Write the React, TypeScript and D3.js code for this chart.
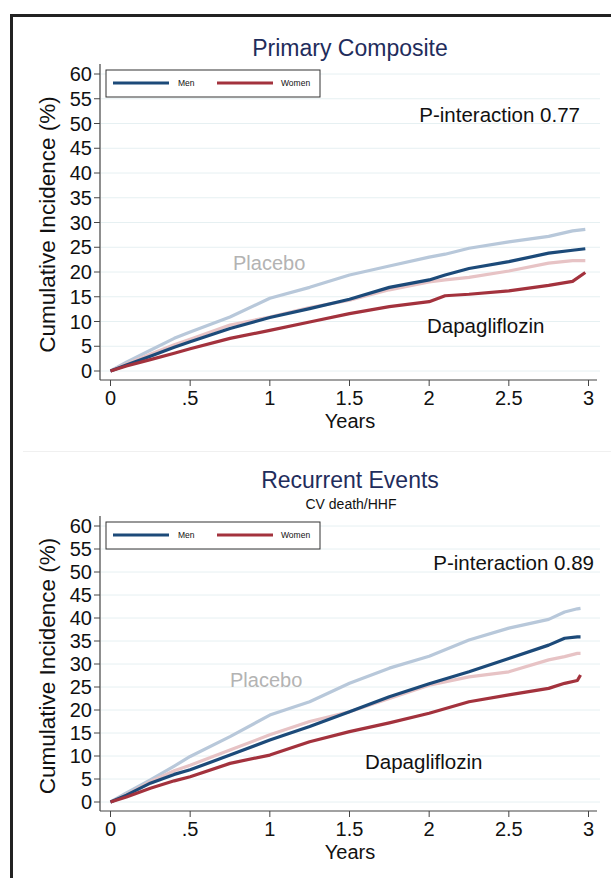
import React from 'react';
import * as d3 from 'd3';

// follow-up times (years)
const topYears = [0, 0.1, 0.25, 0.4, 0.5, 0.75, 1, 1.25, 1.5, 1.75, 2, 2.1, 2.25, 2.5, 2.75, 2.9, 2.98];
const topMenPlacebo = [0, 1.8, 4.2, 6.6, 7.9, 10.9, 14.7, 16.9, 19.4, 21.2, 23.0, 23.6, 24.8, 26.1, 27.2, 28.3, 28.6];
const topMenDapa = [0, 1.2, 3.0, 4.8, 5.9, 8.6, 10.8, 12.6, 14.5, 16.9, 18.4, 19.4, 20.7, 22.1, 23.8, 24.4, 24.7];
const topWomenPlacebo = [0, 1.4, 3.4, 5.3, 6.4, 9.3, 10.9, 12.8, 14.3, 16.4, 18.0, 18.4, 18.9, 20.2, 21.8, 22.3, 22.3];
const topWomenDapa = [0, 1.0, 2.3, 3.6, 4.5, 6.6, 8.2, 9.9, 11.6, 13.0, 14.0, 15.2, 15.5, 16.2, 17.3, 18.1, 19.9];

const bottomYears = [0, 0.1, 0.25, 0.4, 0.5, 0.75, 1, 1.25, 1.5, 1.75, 2, 2.25, 2.5, 2.75, 2.85, 2.93, 2.95];
const bottomMenPlacebo = [0, 2.0, 4.8, 7.8, 9.9, 14.2, 18.9, 21.8, 25.8, 29.1, 31.7, 35.2, 37.8, 39.7, 41.3, 42.0, 42.1];
const bottomMenDapa = [0, 1.5, 4.1, 6.0, 7.0, 10.2, 13.5, 16.4, 19.6, 22.9, 25.7, 28.3, 31.2, 34.1, 35.6, 35.9, 35.9];
const bottomWomenPlacebo = [0, 1.6, 4.4, 6.8, 8.0, 11.3, 14.6, 17.5, 19.6, 22.5, 25.4, 27.2, 28.3, 30.9, 31.6, 32.3, 32.3];
const bottomWomenDapa = [0, 1.1, 3.0, 4.6, 5.5, 8.4, 10.2, 13.1, 15.3, 17.2, 19.3, 21.8, 23.3, 24.7, 25.8, 26.4, 27.6];

const yTicks = [0, 5, 10, 15, 20, 25, 30, 35, 40, 45, 50, 55, 60];
const xTicks = [0, 0.5, 1, 1.5, 2, 2.5, 3];
const xTickLabels = ['0', '.5', '1', '1.5', '2', '2.5', '3'];

const MEN_DARK = '#1c4a79';
const MEN_LIGHT = '#b8c8da';
const WOMEN_DARK = '#a3323d';
const WOMEN_LIGHT = '#e7c3c5';
const TITLE = '#1f2d5c';
const FONT = '"Liberation Sans", Arial, Helvetica, sans-serif';

type PanelProps = {
  top: number; // y of the 60 tick
  bottom: number; // y of the 0 tick
  title: string;
  subtitle?: string;
  titleY: number;
  pText: string;
  pX: number;
  pY: number;
  placeboX: number;
  placeboY: number;
  dapaX: number;
  dapaY: number;
  years: number[];
  series: { values: number[]; color: string }[];
  legendY: number;
};

const Panel = (p: PanelProps) => {
  const x = d3.scaleLinear().domain([0, 3]).range([110.5, 588.5]);
  const y = d3.scaleLinear().domain([0, 60]).range([p.bottom, p.top]);
  const axisY = p.bottom + 9;
  const line = d3
    .line<number>()
    .x((_, i) => x(p.years[i]))
    .y((d) => y(d));

  return (
    <g fontFamily={FONT}>
      <text x={350} y={p.titleY} textAnchor="middle" fontSize={23} fill={TITLE}>
        {p.title}
      </text>
      {p.subtitle && (
        <text x={351} y={p.titleY + 21} textAnchor="middle" fontSize={14} fill="#111">
          {p.subtitle}
        </text>
      )}
      {/* gridlines */}
      {yTicks.map((t) => (
        <line key={'g' + t} x1={101} x2={600} y1={y(t)} y2={y(t)} stroke="#e6f0f2" strokeWidth={1} />
      ))}
      {/* y axis */}
      <line x1={100} x2={100} y1={p.top - 10} y2={axisY} stroke="#444" strokeWidth={1.2} />
      {yTicks.map((t) => (
        <g key={'y' + t}>
          <line x1={94} x2={100} y1={y(t)} y2={y(t)} stroke="#444" strokeWidth={1} />
          <text x={92} y={y(t) + 7} textAnchor="end" fontSize={20} fill="#111">
            {t}
          </text>
        </g>
      ))}
      <text
        transform={`translate(55,${(p.top + p.bottom) / 2 + 2}) rotate(-90)`}
        textAnchor="middle"
        fontSize={22.5}
        fill="#111"
      >
        Cumulative Incidence (%)
      </text>
      {/* x axis */}
      <line x1={100} x2={597} y1={axisY} y2={axisY} stroke="#444" strokeWidth={1.2} />
      {xTicks.map((t, i) => (
        <g key={'x' + t}>
          <line x1={x(t)} x2={x(t)} y1={axisY} y2={axisY + 6} stroke="#444" strokeWidth={1} />
          <text x={x(t)} y={axisY + 25} textAnchor="middle" fontSize={20} fill="#111">
            {xTickLabels[i]}
          </text>
        </g>
      ))}
      <text x={350} y={axisY + 48} textAnchor="middle" fontSize={20} fill="#111">
        Years
      </text>
      {/* curves */}
      {p.series.map((s, i) => (
        <path key={'s' + i} d={line(s.values) || ''} fill="none" stroke={s.color} strokeWidth={3.2} strokeLinejoin="round" />
      ))}
      {/* legend */}
      <rect x={106} y={p.legendY} width={214} height={27} fill="#fff" stroke="#333" strokeWidth={1} />
      <line x1={113} x2={169} y1={p.legendY + 13} y2={p.legendY + 13} stroke={MEN_DARK} strokeWidth={3} />
      <text x={178} y={p.legendY + 16} fontSize={8.5} fill="#111">Men</text>
      <line x1={217} x2={273} y1={p.legendY + 13} y2={p.legendY + 13} stroke={WOMEN_DARK} strokeWidth={3} />
      <text x={281} y={p.legendY + 16} fontSize={8.5} fill="#111">Women</text>
      {/* annotations */}
      <text x={p.pX} y={p.pY} textAnchor="end" fontSize={20.5} fill="#111">
        {p.pText}
      </text>
      <text x={p.placeboX} y={p.placeboY} fontSize={20} fill="#b3b3b3">
        Placebo
      </text>
      <text x={p.dapaX} y={p.dapaY} fontSize={20.5} fill="#111">
        Dapagliflozin
      </text>
    </g>
  );
};

export default function App() {
  return (
    <svg
      width={611}
      height={878}
      style={{ position: 'absolute', left: 0, top: 0, background: '#fff' }}
    >
      <rect x={0} y={0} width={611} height={878} fill="#fff" />
      {/* frame */}
      <line x1={11.5} x2={611} y1={15.5} y2={15.5} stroke="#222" strokeWidth={3} />
      <line x1={11.5} x2={11.5} y1={14} y2={878} stroke="#222" strokeWidth={3} />
      <Panel
        top={74}
        bottom={371}
        title="Primary Composite"
        titleY={56}
        pText="P-interaction 0.77"
        pX={580}
        pY={122}
        placeboX={233}
        placeboY={270}
        dapaX={427}
        dapaY={333}
        years={topYears}
        legendY={70}
        series={[
          { values: topMenPlacebo, color: MEN_LIGHT },
          { values: topWomenPlacebo, color: WOMEN_LIGHT },
          { values: topMenDapa, color: MEN_DARK },
          { values: topWomenDapa, color: WOMEN_DARK },
        ]}
      />
      <line x1={23} x2={611} y1={451.5} y2={451.5} stroke="#f0f0f0" strokeWidth={1} />
      <Panel
        top={526}
        bottom={802}
        title="Recurrent Events"
        subtitle="CV death/HHF"
        titleY={488}
        pText="P-interaction 0.89"
        pX={594}
        pY={570}
        placeboX={230}
        placeboY={687}
        dapaX={365}
        dapaY={769}
        years={bottomYears}
        legendY={522}
        series={[
          { values: bottomMenPlacebo, color: MEN_LIGHT },
          { values: bottomWomenPlacebo, color: WOMEN_LIGHT },
          { values: bottomMenDapa, color: MEN_DARK },
          { values: bottomWomenDapa, color: WOMEN_DARK },
        ]}
      />
    </svg>
  );
}
